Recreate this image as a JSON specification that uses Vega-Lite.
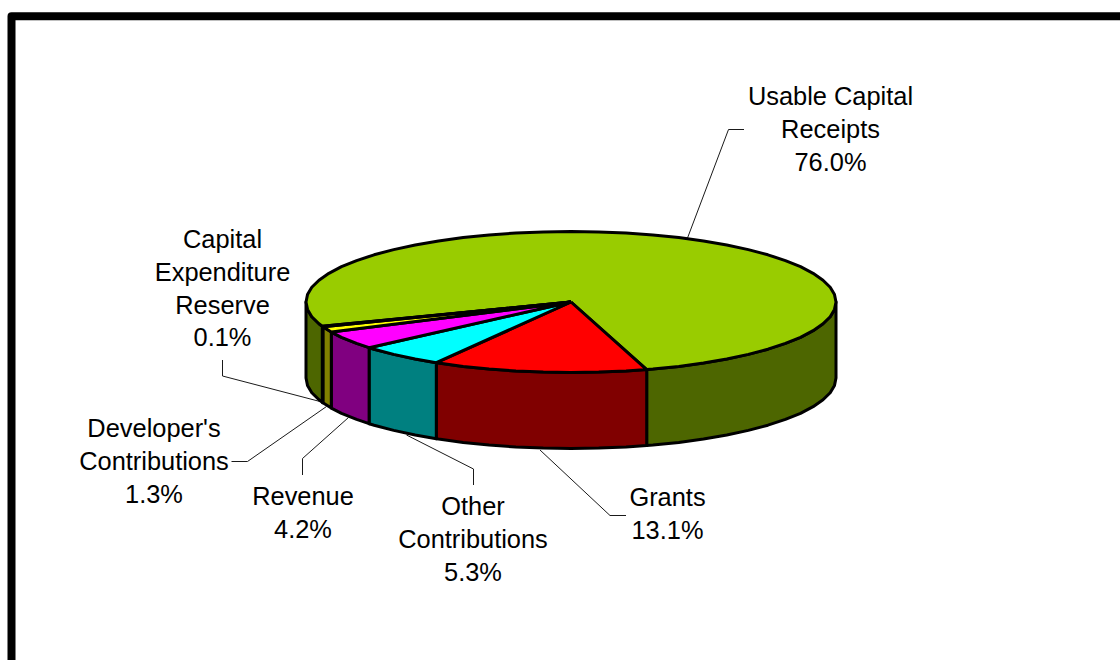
{
  "$schema": "https://vega.github.io/schema/vega-lite/v6.json",
  "autosize": "none",
  "width": 1120,
  "height": 660,
  "padding": 0,
  "background": "#ffffff",
  "config": {"view": {"stroke": null}},
  "datasets": {
    "frame": [
      {"i": 0, "x": 11.5, "y": 660},
      {"i": 1, "x": 11.5, "y": 16.3},
      {"i": 2, "x": 1120, "y": 16.3}
    ],
    "sides": [
      {"slice": "Usable Capital Receipts", "part": "right", "x": 836, "y": 302, "y2": 378},
      {"slice": "Usable Capital Receipts", "part": "right", "x": 834.5, "y": 309.4, "y2": 385.4},
      {"slice": "Usable Capital Receipts", "part": "right", "x": 830.2, "y": 316.7, "y2": 392.7},
      {"slice": "Usable Capital Receipts", "part": "right", "x": 823, "y": 323.8, "y2": 399.8},
      {"slice": "Usable Capital Receipts", "part": "right", "x": 813.1, "y": 330.7, "y2": 406.7},
      {"slice": "Usable Capital Receipts", "part": "right", "x": 800.5, "y": 337.3, "y2": 413.3},
      {"slice": "Usable Capital Receipts", "part": "right", "x": 785.4, "y": 343.4, "y2": 419.4},
      {"slice": "Usable Capital Receipts", "part": "right", "x": 767.9, "y": 349.2, "y2": 425.2},
      {"slice": "Usable Capital Receipts", "part": "right", "x": 748.3, "y": 354.4, "y2": 430.4},
      {"slice": "Usable Capital Receipts", "part": "right", "x": 726.8, "y": 359, "y2": 435},
      {"slice": "Usable Capital Receipts", "part": "right", "x": 703.5, "y": 363.1, "y2": 439.1},
      {"slice": "Usable Capital Receipts", "part": "right", "x": 678.8, "y": 366.4, "y2": 442.4},
      {"slice": "Usable Capital Receipts", "part": "right", "x": 652.9, "y": 369.1, "y2": 445.1},
      {"slice": "Usable Capital Receipts", "part": "right", "x": 646.7, "y": 369.6, "y2": 445.6},
      {"slice": "Grants", "part": "front", "x": 646.7, "y": 369.6, "y2": 445.6},
      {"slice": "Grants", "part": "front", "x": 626.1, "y": 371, "y2": 447},
      {"slice": "Grants", "part": "front", "x": 598.7, "y": 372.1, "y2": 448.1},
      {"slice": "Grants", "part": "front", "x": 571, "y": 372.5, "y2": 448.5},
      {"slice": "Grants", "part": "front", "x": 543.3, "y": 372.1, "y2": 448.1},
      {"slice": "Grants", "part": "front", "x": 515.9, "y": 371, "y2": 447},
      {"slice": "Grants", "part": "front", "x": 489.1, "y": 369.1, "y2": 445.1},
      {"slice": "Grants", "part": "front", "x": 463.2, "y": 366.4, "y2": 442.4},
      {"slice": "Grants", "part": "front", "x": 438.5, "y": 363.1, "y2": 439.1},
      {"slice": "Grants", "part": "front", "x": 436.3, "y": 362.7, "y2": 438.7},
      {"slice": "Other Contributions", "part": "front", "x": 436.3, "y": 362.7, "y2": 438.7},
      {"slice": "Other Contributions", "part": "front", "x": 415.2, "y": 359, "y2": 435},
      {"slice": "Other Contributions", "part": "front", "x": 393.7, "y": 354.4, "y2": 430.4},
      {"slice": "Other Contributions", "part": "front", "x": 374.1, "y": 349.2, "y2": 425.2},
      {"slice": "Other Contributions", "part": "front", "x": 369.1, "y": 347.7, "y2": 423.7},
      {"slice": "Revenue", "part": "front", "x": 369.1, "y": 347.7, "y2": 423.7},
      {"slice": "Revenue", "part": "front", "x": 356.6, "y": 343.4, "y2": 419.4},
      {"slice": "Revenue", "part": "front", "x": 341.5, "y": 337.3, "y2": 413.3},
      {"slice": "Revenue", "part": "front", "x": 331.3, "y": 332.1, "y2": 408.1},
      {"slice": "Developer's Contributions", "part": "front", "x": 331.3, "y": 332.1, "y2": 408.1},
      {"slice": "Developer's Contributions", "part": "front", "x": 322.9, "y": 326.8, "y2": 402.8},
      {"slice": "Capital Expenditure Reserve", "part": "front", "x": 322.9, "y": 326.8, "y2": 402.8},
      {"slice": "Capital Expenditure Reserve", "part": "front", "x": 322.3, "y": 326.3, "y2": 402.3},
      {"slice": "Usable Capital Receipts", "part": "left", "x": 322.3, "y": 326.3, "y2": 402.3},
      {"slice": "Usable Capital Receipts", "part": "left", "x": 319, "y": 323.8, "y2": 399.8},
      {"slice": "Usable Capital Receipts", "part": "left", "x": 311.8, "y": 316.7, "y2": 392.7},
      {"slice": "Usable Capital Receipts", "part": "left", "x": 307.5, "y": 309.4, "y2": 385.4},
      {"slice": "Usable Capital Receipts", "part": "left", "x": 306, "y": 302, "y2": 378}
    ],
    "tops": [
      {"slice": "Usable Capital Receipts", "i": 0, "x": 571, "y": 302},
      {"slice": "Usable Capital Receipts", "i": 1, "x": 322.3, "y": 326.3},
      {"slice": "Usable Capital Receipts", "i": 2, "x": 319, "y": 323.8},
      {"slice": "Usable Capital Receipts", "i": 3, "x": 311.8, "y": 316.7},
      {"slice": "Usable Capital Receipts", "i": 4, "x": 307.5, "y": 309.4},
      {"slice": "Usable Capital Receipts", "i": 5, "x": 306, "y": 302},
      {"slice": "Usable Capital Receipts", "i": 6, "x": 307.5, "y": 294.6},
      {"slice": "Usable Capital Receipts", "i": 7, "x": 311.8, "y": 287.3},
      {"slice": "Usable Capital Receipts", "i": 8, "x": 319, "y": 280.2},
      {"slice": "Usable Capital Receipts", "i": 9, "x": 328.9, "y": 273.3},
      {"slice": "Usable Capital Receipts", "i": 10, "x": 341.5, "y": 266.7},
      {"slice": "Usable Capital Receipts", "i": 11, "x": 356.6, "y": 260.6},
      {"slice": "Usable Capital Receipts", "i": 12, "x": 374.1, "y": 254.8},
      {"slice": "Usable Capital Receipts", "i": 13, "x": 393.7, "y": 249.6},
      {"slice": "Usable Capital Receipts", "i": 14, "x": 415.2, "y": 245},
      {"slice": "Usable Capital Receipts", "i": 15, "x": 438.5, "y": 240.9},
      {"slice": "Usable Capital Receipts", "i": 16, "x": 463.2, "y": 237.6},
      {"slice": "Usable Capital Receipts", "i": 17, "x": 489.1, "y": 234.9},
      {"slice": "Usable Capital Receipts", "i": 18, "x": 515.9, "y": 233},
      {"slice": "Usable Capital Receipts", "i": 19, "x": 543.3, "y": 231.9},
      {"slice": "Usable Capital Receipts", "i": 20, "x": 571, "y": 231.5},
      {"slice": "Usable Capital Receipts", "i": 21, "x": 598.7, "y": 231.9},
      {"slice": "Usable Capital Receipts", "i": 22, "x": 626.1, "y": 233},
      {"slice": "Usable Capital Receipts", "i": 23, "x": 652.9, "y": 234.9},
      {"slice": "Usable Capital Receipts", "i": 24, "x": 678.8, "y": 237.6},
      {"slice": "Usable Capital Receipts", "i": 25, "x": 703.5, "y": 240.9},
      {"slice": "Usable Capital Receipts", "i": 26, "x": 726.8, "y": 245},
      {"slice": "Usable Capital Receipts", "i": 27, "x": 748.3, "y": 249.6},
      {"slice": "Usable Capital Receipts", "i": 28, "x": 767.9, "y": 254.8},
      {"slice": "Usable Capital Receipts", "i": 29, "x": 785.4, "y": 260.6},
      {"slice": "Usable Capital Receipts", "i": 30, "x": 800.5, "y": 266.7},
      {"slice": "Usable Capital Receipts", "i": 31, "x": 813.1, "y": 273.3},
      {"slice": "Usable Capital Receipts", "i": 32, "x": 823, "y": 280.2},
      {"slice": "Usable Capital Receipts", "i": 33, "x": 830.2, "y": 287.3},
      {"slice": "Usable Capital Receipts", "i": 34, "x": 834.5, "y": 294.6},
      {"slice": "Usable Capital Receipts", "i": 35, "x": 836, "y": 302},
      {"slice": "Usable Capital Receipts", "i": 36, "x": 834.5, "y": 309.4},
      {"slice": "Usable Capital Receipts", "i": 37, "x": 830.2, "y": 316.7},
      {"slice": "Usable Capital Receipts", "i": 38, "x": 823, "y": 323.8},
      {"slice": "Usable Capital Receipts", "i": 39, "x": 813.1, "y": 330.7},
      {"slice": "Usable Capital Receipts", "i": 40, "x": 800.5, "y": 337.3},
      {"slice": "Usable Capital Receipts", "i": 41, "x": 785.4, "y": 343.4},
      {"slice": "Usable Capital Receipts", "i": 42, "x": 767.9, "y": 349.2},
      {"slice": "Usable Capital Receipts", "i": 43, "x": 748.3, "y": 354.4},
      {"slice": "Usable Capital Receipts", "i": 44, "x": 726.8, "y": 359},
      {"slice": "Usable Capital Receipts", "i": 45, "x": 703.5, "y": 363.1},
      {"slice": "Usable Capital Receipts", "i": 46, "x": 678.8, "y": 366.4},
      {"slice": "Usable Capital Receipts", "i": 47, "x": 652.9, "y": 369.1},
      {"slice": "Usable Capital Receipts", "i": 48, "x": 646.7, "y": 369.6},
      {"slice": "Usable Capital Receipts", "i": 49, "x": 571, "y": 302},
      {"slice": "Grants", "i": 0, "x": 571, "y": 302},
      {"slice": "Grants", "i": 1, "x": 646.7, "y": 369.6},
      {"slice": "Grants", "i": 2, "x": 626.1, "y": 371},
      {"slice": "Grants", "i": 3, "x": 598.7, "y": 372.1},
      {"slice": "Grants", "i": 4, "x": 571, "y": 372.5},
      {"slice": "Grants", "i": 5, "x": 543.3, "y": 372.1},
      {"slice": "Grants", "i": 6, "x": 515.9, "y": 371},
      {"slice": "Grants", "i": 7, "x": 489.1, "y": 369.1},
      {"slice": "Grants", "i": 8, "x": 463.2, "y": 366.4},
      {"slice": "Grants", "i": 9, "x": 438.5, "y": 363.1},
      {"slice": "Grants", "i": 10, "x": 436.3, "y": 362.7},
      {"slice": "Grants", "i": 11, "x": 571, "y": 302},
      {"slice": "Other Contributions", "i": 0, "x": 571, "y": 302},
      {"slice": "Other Contributions", "i": 1, "x": 436.3, "y": 362.7},
      {"slice": "Other Contributions", "i": 2, "x": 415.2, "y": 359},
      {"slice": "Other Contributions", "i": 3, "x": 393.7, "y": 354.4},
      {"slice": "Other Contributions", "i": 4, "x": 374.1, "y": 349.2},
      {"slice": "Other Contributions", "i": 5, "x": 369.1, "y": 347.7},
      {"slice": "Other Contributions", "i": 6, "x": 571, "y": 302},
      {"slice": "Revenue", "i": 0, "x": 571, "y": 302},
      {"slice": "Revenue", "i": 1, "x": 369.1, "y": 347.7},
      {"slice": "Revenue", "i": 2, "x": 356.6, "y": 343.4},
      {"slice": "Revenue", "i": 3, "x": 341.5, "y": 337.3},
      {"slice": "Revenue", "i": 4, "x": 331.3, "y": 332.1},
      {"slice": "Revenue", "i": 5, "x": 571, "y": 302},
      {"slice": "Developer's Contributions", "i": 0, "x": 571, "y": 302},
      {"slice": "Developer's Contributions", "i": 1, "x": 331.3, "y": 332.1},
      {"slice": "Developer's Contributions", "i": 2, "x": 322.9, "y": 326.8},
      {"slice": "Developer's Contributions", "i": 3, "x": 571, "y": 302},
      {"slice": "Capital Expenditure Reserve", "i": 0, "x": 571, "y": 302},
      {"slice": "Capital Expenditure Reserve", "i": 1, "x": 322.9, "y": 326.8},
      {"slice": "Capital Expenditure Reserve", "i": 2, "x": 322.3, "y": 326.3},
      {"slice": "Capital Expenditure Reserve", "i": 3, "x": 571, "y": 302}
    ],
    "leaders": [
      {"slice": "Usable Capital Receipts", "i": 0, "x": 687.5, "y": 238},
      {"slice": "Usable Capital Receipts", "i": 1, "x": 728.5, "y": 129.5},
      {"slice": "Usable Capital Receipts", "i": 2, "x": 744, "y": 129.5},
      {"slice": "Grants", "i": 0, "x": 540, "y": 450},
      {"slice": "Grants", "i": 1, "x": 610, "y": 515.5},
      {"slice": "Grants", "i": 2, "x": 626, "y": 515.5},
      {"slice": "Other Contributions", "i": 0, "x": 406.5, "y": 435},
      {"slice": "Other Contributions", "i": 1, "x": 473.5, "y": 469},
      {"slice": "Other Contributions", "i": 2, "x": 473.5, "y": 485},
      {"slice": "Revenue", "i": 0, "x": 348.5, "y": 417.5},
      {"slice": "Revenue", "i": 1, "x": 302.5, "y": 458.5},
      {"slice": "Revenue", "i": 2, "x": 302.5, "y": 475},
      {"slice": "Developer's Contributions", "i": 0, "x": 326.5, "y": 406.5},
      {"slice": "Developer's Contributions", "i": 1, "x": 247.5, "y": 461.5},
      {"slice": "Developer's Contributions", "i": 2, "x": 231.5, "y": 461.5},
      {"slice": "Capital Expenditure Reserve", "i": 0, "x": 320, "y": 401.5},
      {"slice": "Capital Expenditure Reserve", "i": 1, "x": 222.5, "y": 376},
      {"slice": "Capital Expenditure Reserve", "i": 2, "x": 222.5, "y": 360}
    ],
    "labels": [
      {"label": "Usable Capital\nReceipts\n76.0%", "x": 830.5, "y": 97},
      {"label": "Grants\n13.1%", "x": 667.5, "y": 498},
      {"label": "Other\nContributions\n5.3%", "x": 473, "y": 507},
      {"label": "Revenue\n4.2%", "x": 303, "y": 497},
      {"label": "Developer's\nContributions\n1.3%", "x": 154, "y": 429},
      {"label": "Capital\nExpenditure\nReserve\n0.1%", "x": 222.5, "y": 240}
    ]
  },
  "encoding": {
    "x": {"field": "x", "type": "quantitative", "axis": null, "scale": {"domain": [0, 1120], "nice": false, "zero": false}},
    "y": {"field": "y", "type": "quantitative", "axis": null, "scale": {"domain": [660, 0], "nice": false, "zero": false}}
  },
  "layer": [
    {
      "data": {"name": "frame"},
      "mark": {"type": "line", "stroke": "#000000", "strokeWidth": 8, "strokeJoin": "round"},
      "encoding": {"order": {"field": "i", "type": "quantitative"}}
    },
    {
      "data": {"name": "leaders"},
      "mark": {"type": "line", "stroke": "#1a1a1a", "strokeWidth": 1},
      "encoding": {
        "detail": {"field": "slice"},
        "order": {"field": "i", "type": "quantitative"}
      }
    },
    {
      "data": {"name": "sides"},
      "mark": {"type": "area", "stroke": "#000000", "strokeWidth": 3, "strokeJoin": "round"},
      "encoding": {
        "y2": {"field": "y2"},
        "detail": {"field": "part"},
        "color": {
          "field": "slice",
          "type": "nominal",
          "legend": null,
          "scale": {
            "domain": ["Usable Capital Receipts", "Grants", "Other Contributions", "Revenue", "Developer's Contributions", "Capital Expenditure Reserve"],
            "range": ["#4d6600", "#800000", "#008080", "#800080", "#808000", "#000040"]
          }
        }
      }
    },
    {
      "data": {"name": "tops"},
      "mark": {"type": "line", "filled": true, "stroke": "#000000", "strokeWidth": 3, "strokeJoin": "round"},
      "encoding": {
        "order": {"field": "i", "type": "quantitative"},
        "color": {
          "field": "slice",
          "type": "nominal",
          "legend": null,
          "scale": {
            "domain": ["Usable Capital Receipts", "Grants", "Other Contributions", "Revenue", "Developer's Contributions", "Capital Expenditure Reserve"],
            "range": ["#99cc00", "#ff0000", "#00ffff", "#ff00ff", "#ffff00", "#000080"]
          }
        }
      }
    },
    {
      "data": {"name": "labels"},
      "mark": {"type": "text", "font": "Liberation Sans", "fontSize": 25.4, "lineBreak": "\n", "lineHeight": 32.8, "align": "center", "baseline": "middle", "color": "#000000"},
      "encoding": {"text": {"field": "label"}}
    }
  ],
  "resolve": {"scale": {"color": "independent"}}
}
